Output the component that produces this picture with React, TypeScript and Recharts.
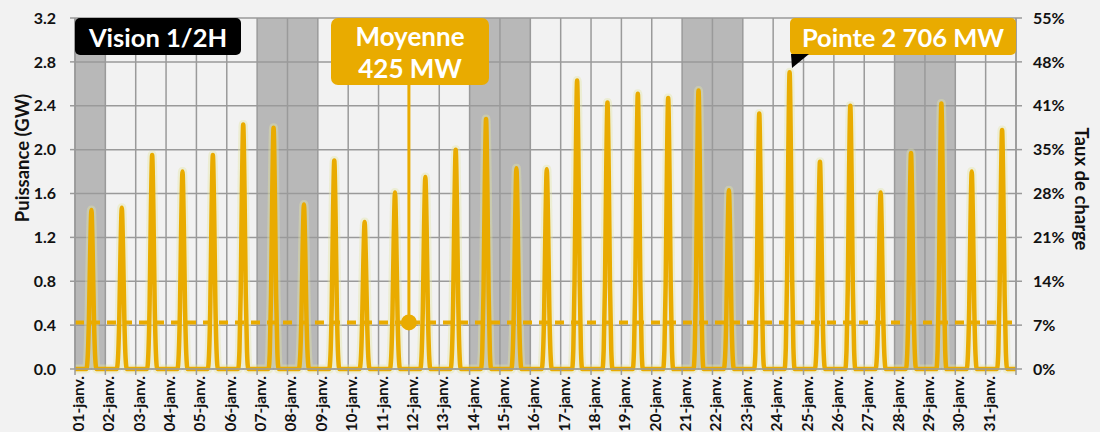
import React from "react";
import {
  LineChart,
  Line,
  XAxis,
  YAxis,
  ReferenceArea,
  ReferenceLine,
  ReferenceDot,
} from "recharts";

// day labels on the time axis
const DAY_LABELS = [
  "01-janv.", "02-janv.", "03-janv.", "04-janv.", "05-janv.", "06-janv.", "07-janv.", "08-janv.",
  "09-janv.", "10-janv.", "11-janv.", "12-janv.", "13-janv.", "14-janv.", "15-janv.", "16-janv.",
  "17-janv.", "18-janv.", "19-janv.", "20-janv.", "21-janv.", "22-janv.", "23-janv.", "24-janv.",
  "25-janv.", "26-janv.", "27-janv.", "28-janv.", "29-janv.", "30-janv.", "31-janv.",
];

// first daylight hour of each row below, the rest of the day is 0
const FIRST_SUN_HOUR = 10;

// production in GW, hours 10h..16h, one row per day
const DAY_VALUES = [
  [0.10, 0.45, 1.07, 1.45, 1.07, 0.45, 0.10],
  [0.10, 0.46, 1.09, 1.47, 1.09, 0.46, 0.10],
  [0.14, 0.60, 1.44, 1.95, 1.44, 0.60, 0.14],
  [0.13, 0.56, 1.33, 1.80, 1.33, 0.56, 0.13],
  [0.14, 0.60, 1.44, 1.95, 1.44, 0.60, 0.14],
  [0.16, 0.69, 1.65, 2.23, 1.65, 0.69, 0.16],
  [0.15, 0.68, 1.63, 2.20, 1.63, 0.68, 0.15],
  [0.11, 0.47, 1.11, 1.50, 1.11, 0.47, 0.11],
  [0.13, 0.59, 1.41, 1.90, 1.41, 0.59, 0.13],
  [0.09, 0.42, 0.99, 1.34, 0.99, 0.42, 0.09],
  [0.11, 0.50, 1.19, 1.61, 1.19, 0.50, 0.11],
  [0.12, 0.54, 1.30, 1.75, 1.30, 0.54, 0.12],
  [0.14, 0.62, 1.48, 2.00, 1.48, 0.62, 0.14],
  [0.16, 0.71, 1.69, 2.28, 1.69, 0.71, 0.16],
  [0.13, 0.57, 1.35, 1.83, 1.35, 0.57, 0.13],
  [0.13, 0.56, 1.35, 1.82, 1.35, 0.56, 0.13],
  [0.18, 0.82, 1.95, 2.63, 1.95, 0.82, 0.18],
  [0.17, 0.75, 1.80, 2.43, 1.80, 0.75, 0.17],
  [0.18, 0.78, 1.86, 2.51, 1.86, 0.78, 0.18],
  [0.17, 0.77, 1.83, 2.47, 1.83, 0.77, 0.17],
  [0.18, 0.79, 1.88, 2.54, 1.88, 0.79, 0.18],
  [0.11, 0.51, 1.21, 1.63, 1.21, 0.51, 0.11],
  [0.16, 0.72, 1.72, 2.33, 1.72, 0.72, 0.16],
  [0.19, 0.84, 2.00, 2.706, 2.00, 0.84, 0.19],
  [0.13, 0.59, 1.40, 1.89, 1.40, 0.59, 0.13],
  [0.17, 0.74, 1.78, 2.40, 1.78, 0.74, 0.17],
  [0.11, 0.50, 1.19, 1.61, 1.19, 0.50, 0.11],
  [0.14, 0.61, 1.46, 1.97, 1.46, 0.61, 0.14],
  [0.17, 0.75, 1.79, 2.42, 1.79, 0.75, 0.17],
  [0.13, 0.56, 1.33, 1.80, 1.33, 0.56, 0.13],
  [0.15, 0.68, 1.61, 2.18, 1.61, 0.68, 0.15],
];

const LEFT_TICKS = [0, 0.4, 0.8, 1.2, 1.6, 2.0, 2.4, 2.8, 3.2];
const RIGHT_LABELS = ["0%", "7%", "14%", "21%", "28%", "35%", "41%", "48%", "55%"];

// shaded days (first, last), 1-based
const SHADED_DAYS = [[1, 1], [7, 8], [14, 15], [21, 22], [28, 29]];

const MEAN_GW = 0.425;
const MEAN_MARK_DAY = 12;

const GOLD = "#E9AB00";
const GRID = "#9a9a9a";
const BG = "#f2f2f2";
const FONT = "Lato, 'Open Sans', sans-serif";

const chartData: { t: number; p: number }[] = [];
DAY_VALUES.forEach((vals, d) => {
  for (let h = 0; h < 24; h++) {
    const i = h - FIRST_SUN_HOUR;
    chartData.push({ t: d * 24 + h, p: i >= 0 && i < vals.length ? vals[i] : 0 });
  }
});
chartData.push({ t: DAY_LABELS.length * 24, p: 0 });

const xTicks = DAY_LABELS.map((_, i) => i * 24).concat(DAY_LABELS.length * 24);

const DayTick = ({ x, y, payload }: any) => {
  const label = DAY_LABELS[Math.round(payload.value / 24)] ?? "";
  return (
    <text
      transform={`translate(${x + 9},${y}) rotate(-90)`}
      textAnchor="end"
      fontSize={15.5}
      fontWeight={700}
      fontFamily={FONT}
      fill="#111"
    >
      {label}
    </text>
  );
};

const boxText: React.CSSProperties = {
  position: "absolute",
  color: "#fff",
  fontFamily: FONT,
  fontWeight: 700,
  fontSize: 25.5,
  display: "flex",
  alignItems: "center",
  justifyContent: "center",
  textAlign: "center",
  whiteSpace: "nowrap",
};

export default function App() {
  return (
    <div style={{ position: "absolute", left: 0, top: 0, width: 1100, height: 432, background: BG, overflow: "hidden" }}>
      <LineChart
        width={1100}
        height={432}
        data={chartData}
        margin={{ top: 18, right: 0, bottom: 0, left: 0 }}
      >
        {SHADED_DAYS.map(([a, b]) => (
          <ReferenceArea
            key={a}
            yAxisId="left"
            x1={(a - 1) * 24}
            x2={b * 24}
            y1={0}
            y2={3.2}
            fill="#b8b8b8"
            fillOpacity={1}
            stroke="none"
          />
        ))}
        {/* grid drawn as reference lines so it stays over the shaded days */}
        {xTicks.map((t) => (
          <ReferenceLine key={`v${t}`} yAxisId="left" x={t} stroke={GRID} strokeWidth={1.5} />
        ))}
        {LEFT_TICKS.map((v) => (
          <ReferenceLine key={`h${v}`} yAxisId="left" y={v} stroke={GRID} strokeWidth={1.5} />
        ))}
        <XAxis
          dataKey="t"
          type="number"
          domain={[0, DAY_LABELS.length * 24]}
          ticks={xTicks}
          interval={0}
          height={63}
          tickSize={6}
          tickMargin={1}
          stroke={GRID}
          strokeWidth={1.5}
          tick={<DayTick />}
        />
        <YAxis
          yAxisId="left"
          domain={[0, 3.2]}
          ticks={LEFT_TICKS}
          width={75}
          tickSize={5}
          tickMargin={14}
          stroke={GRID}
          strokeWidth={1.5}
          tickFormatter={(v: number) => v.toFixed(1)}
          tick={{ fill: "#111", fontSize: 16, fontWeight: 700, fontFamily: FONT }}
        />
        <YAxis
          yAxisId="right"
          orientation="right"
          domain={[0, 3.2]}
          ticks={LEFT_TICKS}
          width={84}
          tickSize={6}
          tickMargin={11}
          stroke={GRID}
          strokeWidth={1.5}
          tickFormatter={(v: number, i: number) => RIGHT_LABELS[i]}
          tick={{ fill: "#111", fontSize: 16, fontWeight: 700, fontFamily: FONT }}
        />
        {/* invisible copy bound to the right axis so it gets drawn */}
        <Line
          yAxisId="right"
          dataKey="p"
          stroke="none"
          dot={false}
          activeDot={false}
          isAnimationActive={false}
        />
        <Line
          yAxisId="left"
          dataKey="p"
          type="monotone"
          stroke="#e3e6a6"
          strokeOpacity={0.4}
          strokeWidth={9}
          dot={false}
          activeDot={false}
          isAnimationActive={false}
        />
        <ReferenceLine
          yAxisId="left"
          y={MEAN_GW}
          stroke={GOLD}
          strokeWidth={4}
          strokeDasharray="9 7"
        />
        <Line
          yAxisId="left"
          dataKey="p"
          type="monotone"
          stroke={GOLD}
          strokeWidth={4.5}
          dot={false}
          activeDot={false}
          isAnimationActive={false}
        />
        <ReferenceLine
          yAxisId="left"
          segment={[
            { x: (MEAN_MARK_DAY - 1) * 24, y: MEAN_GW },
            { x: (MEAN_MARK_DAY - 1) * 24, y: 2.6 },
          ]}
          stroke={GOLD}
          strokeWidth={3}
        />
        <ReferenceDot
          yAxisId="left"
          x={(MEAN_MARK_DAY - 1) * 24}
          y={MEAN_GW}
          r={8}
          fill={GOLD}
          stroke="none"
        />
      </LineChart>

      {/* axis titles */}
      <div
        style={{
          position: "absolute", left: 22, top: 158, transform: "translate(-50%,-50%) rotate(-90deg)",
          fontFamily: FONT, fontWeight: 700, fontSize: 18.5, color: "#111", whiteSpace: "nowrap",
        }}
      >
        Puissance (GW)
      </div>
      <div
        style={{
          position: "absolute", left: 1082, top: 189, transform: "translate(-50%,-50%) rotate(90deg)",
          fontFamily: FONT, fontWeight: 700, fontSize: 18.5, color: "#111", whiteSpace: "nowrap",
        }}
      >
        Taux de charge
      </div>

      {/* annotations */}
      <div style={{ ...boxText, left: 75, top: 18, width: 166, height: 37, background: "#000", borderRadius: 5 }}>
        Vision 1/2H
      </div>
      <div
        style={{
          ...boxText, left: 331, top: 18, width: 158, height: 67, background: GOLD, borderRadius: 7,
          flexDirection: "column", lineHeight: "32px", fontSize: 26,
        }}
      >
        <span>Moyenne</span>
        <span>425 MW</span>
      </div>
      <div style={{ ...boxText, left: 790, top: 18, width: 226, height: 37, background: GOLD, borderRadius: 5 }}>
        Pointe 2 706 MW
      </div>
      <svg style={{ position: "absolute", left: 0, top: 0 }} width={1100} height={432} pointerEvents="none">
        <polygon points="791,54 809,54 792,68" fill="#000" />
      </svg>
    </div>
  );
}
